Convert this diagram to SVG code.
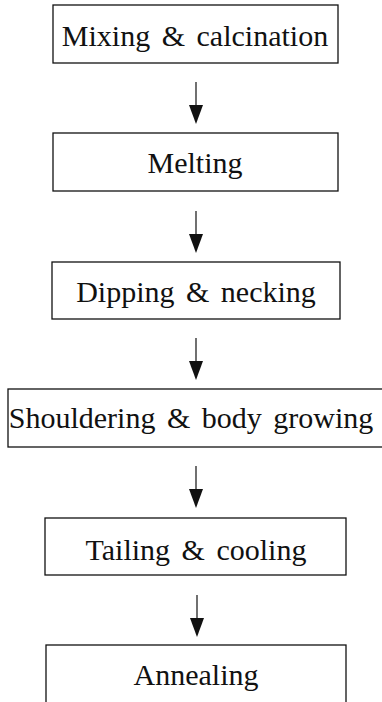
<svg xmlns="http://www.w3.org/2000/svg" width="382" height="702" viewBox="0 0 382 702">
<style>
.box{fill:#fff;stroke:#111;stroke-width:1.3}
.lbl{font-family:"Liberation Serif","Times New Roman",serif;font-size:30px;fill:#111;text-anchor:middle;word-spacing:4px}
.con{stroke:#111;stroke-width:1.2;fill:none}
.head{fill:#111}
</style>
<rect width="382" height="702" fill="#fff"/>
<g id="connectors">
<line class="con" x1="196" y1="82" x2="196" y2="108"/><polygon class="head" points="189,105 203,105 196,124"/>
<line class="con" x1="196" y1="211" x2="196" y2="237"/><polygon class="head" points="189,234 203,234 196,253"/>
<line class="con" x1="196" y1="338" x2="196" y2="364"/><polygon class="head" points="189,361 203,361 196,380"/>
<line class="con" x1="196" y1="466" x2="196" y2="492"/><polygon class="head" points="189,489 203,489 196,508"/>
<line class="con" x1="197" y1="595" x2="197" y2="621"/><polygon class="head" points="190,618 204,618 197,637"/>
</g>
<g id="n1"><rect class="box" x="53" y="5" width="285" height="58"/><text class="lbl" x="195" y="46">Mixing &amp; calcination</text></g>
<g id="n2"><rect class="box" x="53" y="133" width="285" height="58"/><text class="lbl" x="195" y="173">Melting</text></g>
<g id="n3"><rect class="box" x="52" y="262" width="288" height="57"/><text class="lbl" x="196" y="302">Dipping &amp; necking</text></g>
<g id="n4"><rect class="box" x="8" y="389" width="382" height="58"/><text class="lbl" x="191" y="428">Shouldering &amp; body growing</text></g>
<g id="n5"><rect class="box" x="45" y="518" width="301" height="57"/><text class="lbl" x="196" y="560">Tailing &amp; cooling</text></g>
<g id="n6"><rect class="box" x="46" y="645" width="300" height="70"/><text class="lbl" x="196" y="685">Annealing</text></g>
</svg>
